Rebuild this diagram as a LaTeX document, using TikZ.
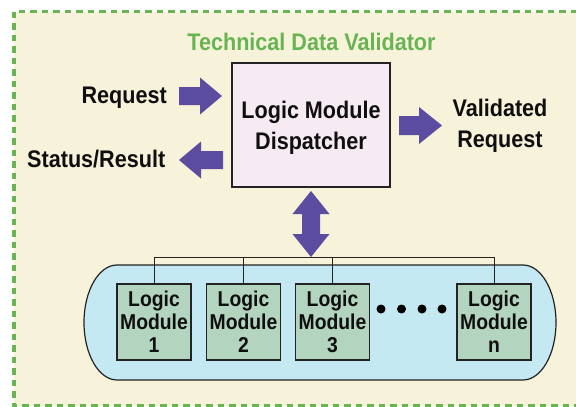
\documentclass[tikz,border=0pt]{standalone}
\usepackage{fontspec}
\newfontfamily\lblfont{Liberation Sans}[FakeStretch=0.9]
\definecolor{bgbeige}{RGB}{247,242,218}
\definecolor{dashgreen}{RGB}{104,180,82}
\definecolor{arrowpurple}{RGB}{92,76,161}
\definecolor{dispfill}{RGB}{246,235,243}
\definecolor{capsfill}{RGB}{196,233,242}
\definecolor{modfill}{RGB}{179,212,190}
\definecolor{edgegray}{RGB}{35,35,35}
\definecolor{txtblack}{RGB}{15,15,15}
\tikzset{
  lbl/.style={inner sep=0pt, text=txtblack, font=\lblfont\bfseries\fontsize{24}{31}\selectfont},
  titlelbl/.style={inner sep=0pt, text=dashgreen, font=\lblfont\bfseries\fontsize{24}{31}\selectfont},
  dispbox/.style={draw=edgegray, line width=1.3pt, fill=dispfill, minimum width=158pt, minimum height=124pt, inner sep=0pt, align=center, text=txtblack, font=\lblfont\bfseries\fontsize{24}{31}\selectfont},
  modbox/.style={draw=edgegray, line width=1.2pt, fill=modfill, minimum width=74pt, minimum height=76pt, inner sep=0pt, align=center, text=txtblack, font=\lblfont\bfseries\fontsize{21.5}{23}\selectfont},
  capsule/.style={draw=edgegray, line width=1.2pt, fill=capsfill},
  busline/.style={draw=edgegray, line width=1pt},
  blockarrow/.style={fill=arrowpurple},
  dotmark/.style={fill=black}
}
\begin{document}
\begin{tikzpicture}[x=1pt,y=-1pt]
\useasboundingbox (0,0) rectangle (576,407);
\begin{scope}
  \clip (0,0) rectangle (576,407);
  \fill[bgbeige] (14,11.7) rectangle (620,406);
  \draw[dashgreen, line width=3.3pt, dash pattern=on 6.5pt off 5pt] (14,11.7) rectangle (620,406);
\end{scope}

% title
\node[titlelbl, anchor=base] (title) at (311.5,50) {Technical Data Validator};

% dispatcher
\node[dispbox] (disp) at (311,125) {\rule{0pt}{23.5pt}Logic Module\\Dispatcher};

% side labels
\node[lbl, anchor=base east] (req) at (167,103.3) {Request};
\node[lbl, anchor=base west] (stat) at (27,167) {Status/Result};
\node[lbl, align=center] (valid) at (500,126) {Validated\\Request};

% block arrows
\fill[blockarrow] (179,87) -- (200,87) -- (200,77.5) -- (222,96) -- (200,114.5) -- (200,105) -- (179,105) -- cycle;
\fill[blockarrow] (223,151) -- (201,151) -- (201,141.5) -- (179,160) -- (201,178.5) -- (201,169) -- (223,169) -- cycle;
\fill[blockarrow] (399,116) -- (419,116) -- (419,107) -- (442,125.5) -- (419,144) -- (419,135) -- (399,135) -- cycle;

% capsule
\filldraw[capsule] (117,265) -- (523,265) arc[start angle=90, end angle=-90, x radius=33pt, y radius=57.5pt] -- (117,380) arc[start angle=270, end angle=90, x radius=33pt, y radius=57.5pt] -- cycle;

% modules
\node[modbox] (m1) at (154,322) {Logic\\Module\\1};
\node[modbox] (m2) at (243.5,322) {Logic\\Module\\2};
\node[modbox] (m3) at (332.5,322) {Logic\\Module\\3};
\node[modbox] (mn) at (494,322) {Logic\\Module\\n};

% bus
\coordinate (bus) at (311,257);
\draw[busline] (m1.north) -- (m1.north |- bus) -- (mn.north |- bus) -- (mn.north);
\draw[busline] (m2.north) -- (m2.north |- bus);
\draw[busline] (m3.north) -- (m3.north |- bus);

% double arrow
\fill[blockarrow] (311,191) -- (329.5,214) -- (320,214) -- (320,234) -- (329.5,234) -- (311,257) -- (292.5,234) -- (302,234) -- (302,214) -- (292.5,214) -- cycle;

% dots
\foreach \dx in {381,401.5,422,442} \fill[dotmark] (\dx,309) circle[radius=4.5pt];
\end{tikzpicture}
\end{document}
